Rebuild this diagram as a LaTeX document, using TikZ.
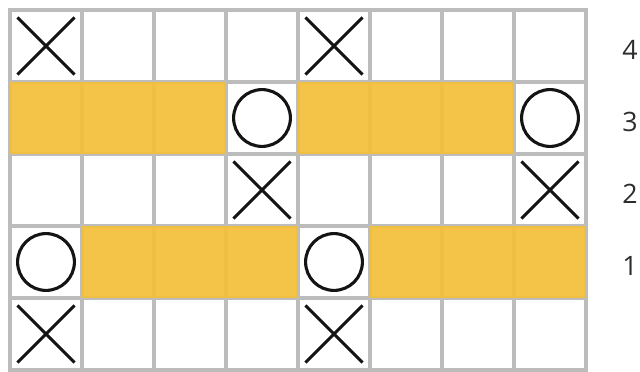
\documentclass[tikz,border=0pt]{standalone}
\usepackage{fontspec}
\setmainfont{Open Sans}
\usetikzlibrary{shapes.misc,shapes.geometric}
\definecolor{gridgray}{RGB}{188,188,188}
\definecolor{markink}{RGB}{20,20,20}
\definecolor{gold}{RGB}{242,192,60}
\definecolor{ink}{RGB}{45,45,45}
\tikzset{
  cell/.style={draw=gridgray,line width=2.2pt,minimum size=18mm,inner sep=0pt,outer sep=0pt},
  hl/.style={fill=gold,fill opacity=0.94,minimum size=18mm,inner sep=0pt},
  xmark/.style={draw=markink,cross out,line width=2.2pt,minimum size=13.5mm,inner sep=0pt},
  omark/.style={draw=markink,circle,line width=2.2pt,minimum size=14.2mm,inner sep=0pt},
  lbl/.style={font=\fontsize{19}{20}\selectfont,text=ink,inner sep=1pt}
}
\begin{document}
\begin{tikzpicture}
\useasboundingbox (0,0) rectangle (16,-9.3);
% grid
\foreach \row in {1,...,5}
  \foreach \col in {1,...,8}
    \node[cell] (c\row\col) at ({1.8*\col-0.65},{-1.8*\row+0.65}) {};
% yellow cells
\foreach \row/\col in {2/1,2/2,2/3,2/5,2/6,2/7,4/2,4/3,4/4,4/6,4/7,4/8}
  \node[hl] (h\row\col) at (c\row\col) {};
% marks
\foreach \row/\col in {1/1,1/5,3/4,3/8,5/1,5/5}
  \node[xmark] (x\row\col) at (c\row\col) {};
\foreach \row/\col in {2/4,2/8,4/1,4/5}
  \node[omark] (o\row\col) at (c\row\col) {};
% row numbers
\foreach \row/\num in {1/4,2/3,3/2,4/1}
  \node[lbl] (l\num) at (15.75,{-1.8*\row+0.55}) {\num};
\end{tikzpicture}
\end{document}
